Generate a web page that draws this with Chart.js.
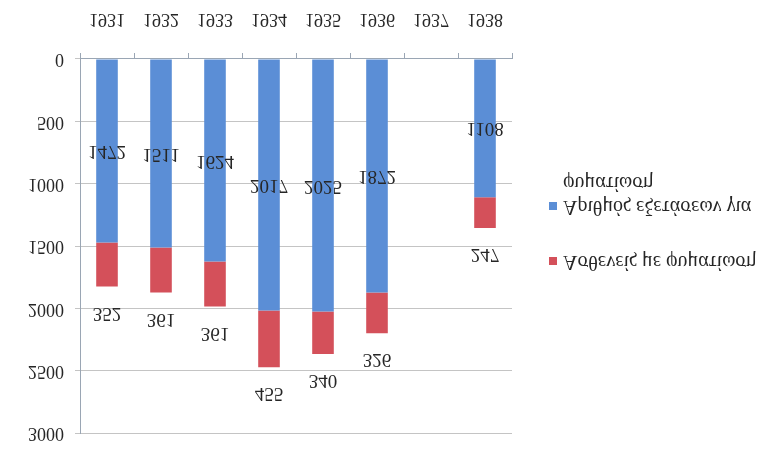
<!DOCTYPE html>
<html>
<head>
<meta charset="utf-8">
<script src="https://cdn.jsdelivr.net/npm/chart.js@4.4.0/dist/chart.umd.min.js"></script>
<style>
  body { margin: 0; background: #fff; }
  /* the reference picture is mirrored top to bottom */
  #wrap { width: 766px; height: 455px; transform: scaleY(-1); }
</style>
</head>
<body>
<div id="wrap"><canvas id="tbChart" width="766" height="455"></canvas></div>
<script>
// years and values
var years = ["1931", "1932", "1933", "1934", "1935", "1936", "1937", "1938"];
var examined = [1472, 1511, 1624, 2017, 2025, 1872, null, 1108];
var sick = [352, 361, 361, 455, 340, 326, null, 247];
var yMax = 3000;
var yStep = 500;

var examinedLabel = ["Αριθμός εξετάσεων για", "φυματίωση"];
var sickLabel = ["Ασθενείς με φυματίωση"];

var blue = "#5b8ed6";
var red = "#d4505a";
var serif = '"Liberation Serif", "DejaVu Serif", serif';
var ink = "#262626";

// numbers on the bars
var valueLabels = {
  id: "valueLabels",
  afterDatasetsDraw: function (chart) {
    var ctx = chart.ctx;
    ctx.save();
    ctx.font = "19px " + serif;
    ctx.fillStyle = ink;
    ctx.textAlign = "center";
    ctx.textBaseline = "middle";
    chart.getDatasetMeta(0).data.forEach(function (bar, i) {
      if (examined[i] == null) return;
      ctx.fillText(examined[i], bar.x, (bar.y + bar.base) / 2);
    });
    chart.getDatasetMeta(1).data.forEach(function (bar, i) {
      if (sick[i] == null) return;
      ctx.fillText(sick[i], bar.x, bar.y - 26);
    });
    ctx.restore();
  },
};

// legend on the right, with a wrapped first entry
var sideLegend = {
  id: "sideLegend",
  afterDraw: function (chart) {
    var ctx = chart.ctx;
    var items = [
      { color: red, lines: sickLabel, y: 194 },
      { color: blue, lines: examinedLabel, y: 249 },
    ];
    ctx.save();
    ctx.font = "20px " + serif;
    ctx.textBaseline = "middle";
    items.forEach(function (it) {
      ctx.fillStyle = it.color;
      ctx.fillRect(549, it.y - 4, 8, 8);
      ctx.fillStyle = ink;
      it.lines.forEach(function (t, k) {
        ctx.fillText(t, 563, it.y + k * 24);
      });
    });
    ctx.restore();
  },
};

var ctx = document.getElementById("tbChart").getContext("2d");

var tbChart = new Chart(ctx, {
  type: "bar",
  data: {
    labels: years,
    datasets: [
      {
        label: examinedLabel.join(" "),
        data: examined,
        backgroundColor: blue,
        barPercentage: 0.4,
        categoryPercentage: 1,
      },
      {
        label: sickLabel[0],
        data: sick,
        backgroundColor: red,
        barPercentage: 0.4,
        categoryPercentage: 1,
      },
    ],
  },
  options: {
    responsive: false,
    animation: false,
    devicePixelRatio: 1,
    layout: { padding: { left: 0, right: 254, top: 14, bottom: 0 } },
    plugins: {
      legend: { display: false },
      tooltip: { enabled: false },
    },
    scales: {
      x: {
        stacked: true,
        grid: {
          drawOnChartArea: false,
          tickLength: 6,
          color: "#9aa6b4",
        },
        border: { color: "#9aa6b4" },
        ticks: {
          font: { family: serif, size: 18 },
          color: ink,
          padding: 23,
          maxRotation: 0,
        },
        afterFit: function (scale) {
          scale.height = 59;
        },
      },
      y: {
        stacked: true,
        min: 0,
        max: yMax,
        ticks: {
          stepSize: yStep,
          font: { family: serif, size: 18 },
          color: ink,
          padding: 11,
          callback: function (v) {
            return String(v);
          },
        },
        grid: { color: "#c4c4c4", tickLength: 5 },
        border: { color: "#9aa6b4" },
        afterFit: function (scale) {
          scale.width = 80;
        },
      },
    },
  },
  plugins: [valueLabels, sideLegend],
});
</script>
</body>
</html>
